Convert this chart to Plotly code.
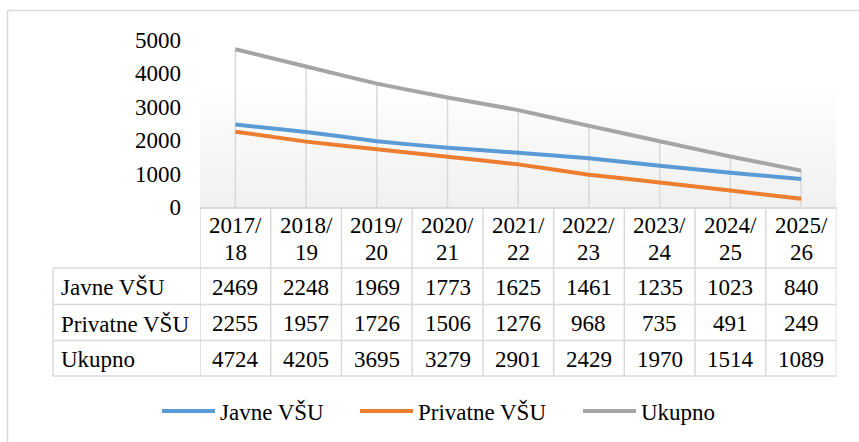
import plotly.graph_objects as go

W, H = 859, 442

years = ["2017/18", "2018/19", "2019/20", "2020/21", "2021/22",
         "2022/23", "2023/24", "2024/25", "2025/26"]
javne = [2469, 2248, 1969, 1773, 1625, 1461, 1235, 1023, 840]
privatne = [2255, 1957, 1726, 1506, 1276, 968, 735, 491, 249]
ukupno = [4724, 4205, 3695, 3279, 2901, 2429, 1970, 1514, 1089]
series_names = ["Javne VŠU", "Privatne VŠU", "Ukupno"]
series_values = [javne, privatne, ukupno]
colors = ["#5b9bd5", "#ed7d31", "#a5a5a5"]
y_ticks = [0, 1000, 2000, 3000, 4000, 5000]

FONT = "Liberation Serif, Times New Roman, DejaVu Serif, serif"
GRID = "#d9d9d9"


def px(x):
    return x / W


def py(y):
    return 1 - y / H


xs = list(range(len(years)))
fig = go.Figure()

# plot area gradient
fig.add_trace(go.Scatter(
    x=[-0.5, len(years) - 0.5, len(years) - 0.5, -0.5, -0.5],
    y=[0, 0, y_ticks[-1], y_ticks[-1], 0],
    mode="none", fill="toself",
    fillgradient=dict(type="vertical", start=0, stop=y_ticks[-1],
                      colorscale=[[0, "#f0f0f0"], [0.75, "#ffffff"], [1, "#ffffff"]]),
    hoverinfo="skip", showlegend=False,
))

# drop lines
dx, dy = [], []
for i, v in enumerate(ukupno):
    dx += [i, i, None]
    dy += [0, max(javne[i], privatne[i], v), None]
fig.add_trace(go.Scatter(x=dx, y=dy, mode="lines", line=dict(color=GRID, width=1.5),
                         hoverinfo="skip", showlegend=False))

for name, vals, c in zip(series_names, series_values, colors):
    fig.add_trace(go.Scatter(x=xs, y=vals, name=name, mode="lines",
                             line=dict(color=c, width=4, shape="spline", smoothing=0.4),
                             showlegend=False))

# table
tbl_top, hdr_bot = 207, 268
row_bounds = [268, 304.5, 340.5, 376]
left = 53
shapes = []
line = dict(color=GRID, width=1.5)
for i in range(len(years) + 1):
    shapes.append(dict(type="line", xref="x", yref="paper", x0=i - 0.5, x1=i - 0.5,
                       y0=py(tbl_top), y1=py(row_bounds[-1]), line=line))
shapes.append(dict(type="line", xref="paper", yref="paper", x0=px(left), x1=px(left),
                   y0=py(row_bounds[0]), y1=py(row_bounds[-1]), line=line))
for yb in row_bounds:
    shapes.append(dict(type="line", xref="paper", yref="paper", x0=px(left), x1=px(836.5),
                       y0=py(yb), y1=py(yb), line=line))
# outer border
shapes.append(dict(type="rect", xref="paper", yref="paper", x0=px(7.5), x1=px(900),
                   y0=py(10.5), y1=py(480), line=line, layer="below"))

ann = []
tf = dict(family=FONT, size=23, color="black")
for i, yr in enumerate(years):
    a, b = yr.split("/")
    ann.append(dict(x=i, y=py(226), xref="x", yref="paper", text=a + "/", showarrow=False,
                    font=tf, yanchor="middle"))
    ann.append(dict(x=i, y=py(253), xref="x", yref="paper", text=b, showarrow=False,
                    font=tf, yanchor="middle"))
for r, (name, vals) in enumerate(zip(series_names, series_values)):
    yc = (row_bounds[r] + row_bounds[r + 1]) / 2 + 1
    ann.append(dict(x=px(left + 6), y=py(yc), xref="paper", yref="paper", text=name,
                    showarrow=False, font=tf, xanchor="left", yanchor="middle"))
    for i, v in enumerate(vals):
        ann.append(dict(x=i, y=py(yc), xref="x", yref="paper", text=str(v),
                        showarrow=False, font=tf, yanchor="middle"))

# legend
leg_x = [162, 360, 583]
for name, c, lx in zip(series_names, colors, leg_x):
    shapes.append(dict(type="line", xref="paper", yref="paper", x0=px(lx), x1=px(lx + 53),
                       y0=py(411), y1=py(411), line=dict(color=c, width=4)))
    ann.append(dict(x=px(lx + 56), y=py(412), xref="paper", yref="paper", text=name,
                    showarrow=False, font=tf, xanchor="left", yanchor="middle"))

fig.update_layout(
    width=W, height=H, autosize=False,
    margin=dict(l=0, r=0, t=0, b=0, pad=0, autoexpand=False),
    paper_bgcolor="white", plot_bgcolor="rgba(0,0,0,0)",
    font=tf,
    shapes=shapes, annotations=ann,
    xaxis=dict(domain=[px(200), px(836.5)], range=[-0.5, len(years) - 0.5],
               showticklabels=False, showgrid=False, zeroline=False, automargin=False,
               showline=True, linecolor=GRID, linewidth=1.5, ticks=""),
    yaxis=dict(domain=[py(207), py(40)], range=[0, y_ticks[-1]], tickvals=y_ticks,
               showgrid=False, zeroline=False, showline=False, ticks="", automargin=False,
               ticklabelstandoff=18, tickfont=tf),
)

fig.write_html("out.html", config={"displayModeBar": False},
               post_script="document.body.style.margin='0';document.body.style.overflow='hidden';")
